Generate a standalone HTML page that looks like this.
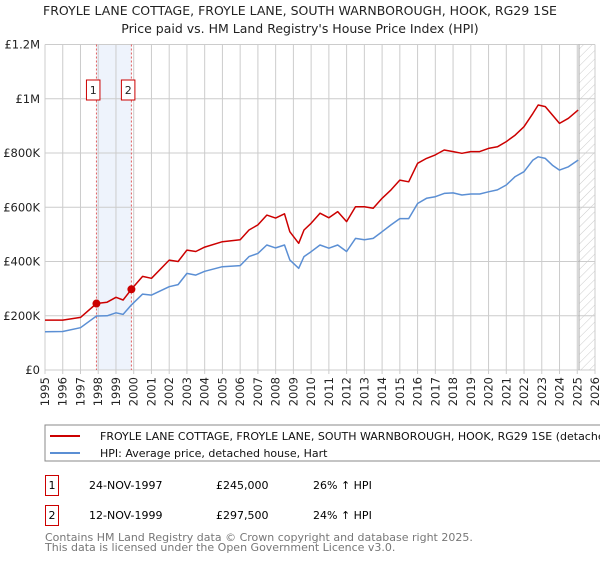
<!DOCTYPE html>
<html><head><meta charset="utf-8"><style>
body{margin:0;background:#fff;font-family:"Liberation Sans","DejaVu Sans",sans-serif;}
svg text{font-family:"DejaVu Sans","Liberation Sans",sans-serif;}
</style></head><body>
<svg id="c" width="600" height="560" xmlns="http://www.w3.org/2000/svg">
<defs><pattern id="hatch" width="6" height="6" patternUnits="userSpaceOnUse" patternTransform="rotate(45)"><line x1="0" y1="0" x2="0" y2="6" stroke="#ccc" stroke-width="1"/></pattern></defs>
<text x="300" y="15" text-anchor="middle" font-size="12.5" fill="#222">FROYLE LANE COTTAGE, FROYLE LANE, SOUTH WARNBOROUGH, HOOK, RG29 1SE</text>
<text x="300" y="33" text-anchor="middle" font-size="12.5" fill="#222">Price paid vs. HM Land Registry's House Price Index (HPI)</text>
<g id="plot"></g>
<rect x="45" y="425" width="560" height="36" fill="#fff" stroke="#888"/>
<line x1="50" y1="436" x2="80" y2="436" stroke="#cc0000" stroke-width="2"/>
<text x="100" y="440" font-size="11" fill="#111">FROYLE LANE COTTAGE, FROYLE LANE, SOUTH WARNBOROUGH, HOOK, RG29 1SE (detached house)</text>
<line x1="50" y1="453" x2="80" y2="453" stroke="#5b8fd4" stroke-width="2"/>
<text x="100" y="457" font-size="11" fill="#111">HPI: Average price, detached house, Hart</text>
<g>
<rect x="45.5" y="475.5" width="13" height="20" fill="none" stroke="#cc0000"/>
<text x="52" y="489" text-anchor="middle" font-size="11">1</text>
<text x="89" y="489" font-size="11">24-NOV-1997</text>
<text x="216" y="489" font-size="11">£245,000</text>
<text x="313" y="489" font-size="11">26% ↑ HPI</text></g>
<g>
<rect x="45.5" y="505.5" width="13" height="20" fill="none" stroke="#cc0000"/>
<text x="52" y="519" text-anchor="middle" font-size="11">2</text>
<text x="89" y="519" font-size="11">12-NOV-1999</text>
<text x="216" y="519" font-size="11">£297,500</text>
<text x="313" y="519" font-size="11">24% ↑ HPI</text></g>
<text x="45" y="541" font-size="11" fill="#777">Contains HM Land Registry data © Crown copyright and database right 2025.</text>
<text x="45" y="551" font-size="11" fill="#777">This data is licensed under the Open Government Licence v3.0.</text>
</svg>
<script>
const years=[1995,1996,1997,1997.9,1998.5,1999,1999.4,1999.87,2000.5,2001,2002,2002.5,2003,2003.5,2004,2005,2006,2006.5,2007,2007.5,2008,2008.5,2008.8,2009.3,2009.6,2010,2010.5,2011,2011.5,2012,2012.5,2013,2013.5,2014,2014.5,2015,2015.5,2016,2016.5,2017,2017.5,2018,2018.5,2019,2019.5,2020,2020.5,2021,2021.5,2022,2022.5,2022.8,2023.2,2023.6,2024,2024.5,2025.05];
const propertyValues=[184,184,194,245,250,268,258,297.5,345,338,405,400,442,437,453,473,480,516,535,571,560,576,510,467,516,541,578,561,584,547,602,602,596,633,664,700,694,762,780,793,811,805,799,805,805,817,823,842,866,897,946,977,971,940,909,928,958];
const hpiValues=[141,142,156,199,200,211,205,240,280,276,307,315,356,350,364,381,385,418,430,461,450,461,406,375,418,436,461,449,461,437,485,480,485,510,535,558,558,614,633,639,651,653,645,649,649,657,664,682,713,731,774,786,780,755,737,749,774];
const yTicks=[0,200,400,600,800,1000,1200];
const yLabels=["£0","£200K","£400K","£600K","£800K","£1M","£1.2M"];
const xTicks=[1995,1996,1997,1998,1999,2000,2001,2002,2003,2004,2005,2006,2007,2008,2009,2010,2011,2012,2013,2014,2015,2016,2017,2018,2019,2020,2021,2022,2023,2024,2025,2026];
const sales=[{n:"1",t:1997.9,v:245},{n:"2",t:1999.87,v:297.5}];
const dataEnd=2025.1;
const X=t=>45+(t-1995)*(550/31), Y=v=>370-v*(325.5/1200);
const NS="http://www.w3.org/2000/svg", g=document.getElementById('plot');
function mk(tag,a,p){const e=document.createElementNS(NS,tag);for(const k in a)e.setAttribute(k,a[k]);(p||g).appendChild(e);return e;}
let r=mk('rect',{x:X(sales[0].t),y:Y(1200),width:X(sales[1].t)-X(sales[0].t),height:Y(0)-Y(1200),fill:'#eef3fc'});


let h=mk('rect',{x:X(dataEnd),y:Y(1200),width:X(2026)-X(dataEnd),height:Y(0)-Y(1200),fill:'url(#hatch)'});


xTicks.forEach((t,i)=>{
 let l=mk('line',{x1:X(t),x2:X(t),y1:Y(1200),y2:Y(0)+4,stroke:'#ccc'});
 
 
 let tx=mk('text',{x:0,y:0,'font-size':11.5,fill:'#222','text-anchor':'end',transform:`translate(${X(t)+4},377) rotate(-90)`});
 tx.textContent=t;
 
 
});
yTicks.forEach((v,i)=>{
 let l=mk('line',{x1:45,x2:X(2026),y1:Y(v),y2:Y(v),stroke:'#ccc'});
 
 
 let tx=mk('text',{x:40,y:Y(v)+4,'font-size':11.5,fill:'#222','text-anchor':'end'});
 tx.textContent=yLabels[i];
 
 
});
let el=mk('line',{x1:X(dataEnd),x2:X(dataEnd),y1:Y(1200),y2:Y(0),stroke:'#aaa','stroke-width':1});


sales.forEach(s=>{
 let l=mk('line',{x1:X(s.t),x2:X(s.t),y1:Y(1200),y2:Y(0),stroke:'#e06060','stroke-dasharray':'2,2'});
 
 
 let b=mk('rect',{x:X(s.t)-10,y:80,width:13.5,height:20,fill:'#fff',stroke:'#cc0000'});
 
 
 let t=mk('text',{x:X(s.t)-3.2,y:94,'font-size':11,'text-anchor':'middle',fill:'#222'});
 t.textContent=s.n;
 
 
});
function line(vals,col,name){
 let d=vals.map((v,i)=>(i?'L':'M')+X(years[i]).toFixed(1)+','+Y(v).toFixed(1)).join('');
 let p=mk('path',{d:d,fill:'none',stroke:col,'stroke-width':1.5,'stroke-linejoin':'round'});
 
 
}
line(hpiValues,'#5b8fd4','hpi-line');
line(propertyValues,'#cc0000','property-line');
sales.forEach(s=>{
 let c=mk('circle',{cx:X(s.t),cy:Y(s.v),r:4,fill:'#cc0000'});
 
 
});
</script>
</body></html>
